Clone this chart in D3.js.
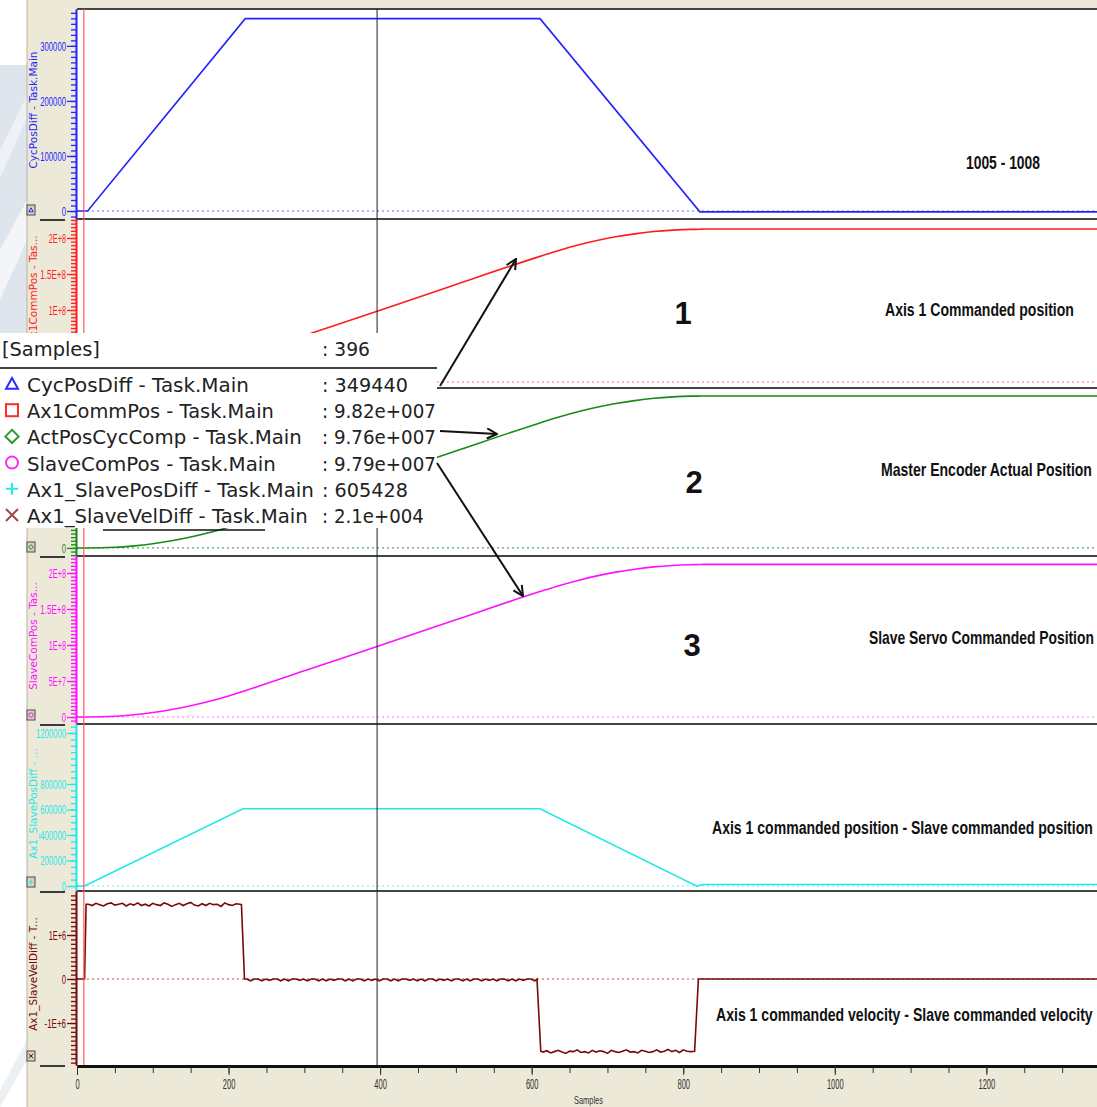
<!DOCTYPE html>
<html>
<head>
<meta charset="utf-8">
<script src="https://cdn.jsdelivr.net/npm/d3@7"></script>
<style>
body { margin: 0; background: #fff; }
svg { display: block; }
</style>
</head>
<body>
<div id="chart"></div>
<script>
// ---- data ----
var sampleMax = 1346
var cursorSample = 396
var triggerSample = 9

var blueSamples = [0, 14, 222, 611, 822, 1346]
var blueValues = [0, 0, 349440, 349440, -1500, -1500]

var posSamples = [0, 14, 50, 75, 100, 125, 150, 175, 200, 222, 300, 396, 500, 611, 636, 661, 686, 711, 736, 761, 786, 811, 822, 826, 1346]
var redValues = [0, 0, 1.1e6, 3.2e6, 6.3e6, 1.05e7, 1.58e7, 2.21e7, 2.95e7, 3.69e7, 6.45e7, 9.82e7, 1.355e8, 1.745e8, 1.828e8, 1.902e8, 1.965e8, 2.017e8, 2.058e8, 2.09e8, 2.11e8, 2.12e8, 2.121e8, 2.125e8, 2.125e8]
var greenValues = [0, 0, 0.9e6, 2.9e6, 5.9e6, 1.0e7, 1.52e7, 2.14e7, 2.87e7, 3.6e7, 6.35e7, 9.76e7, 1.346e8, 1.735e8, 1.817e8, 1.89e8, 1.952e8, 2.004e8, 2.045e8, 2.077e8, 2.097e8, 2.107e8, 2.108e8, 2.11e8, 2.11e8]
var magentaValues = [0, 0, 1.0e6, 3.1e6, 6.2e6, 1.04e7, 1.56e7, 2.18e7, 2.92e7, 3.66e7, 6.42e7, 9.79e7, 1.35e8, 1.742e8, 1.824e8, 1.897e8, 1.96e8, 2.012e8, 2.053e8, 2.085e8, 2.105e8, 2.115e8, 2.117e8, 2.12e8, 2.12e8]

var cyanSamples = [0, 10, 219, 611, 818, 826, 1346]
var cyanValues = [0, 0, 605428, 605428, -2000, 12000, 12000]

// velocity difference in millions: edges plus noisy plateaus
var velStartSamples = [0, 10, 12]
var velStartValues = [0, 0, 1.70]
var velHighStart = 15, velHighStep = 5
var velHigh = [1.70, 1.67, 1.72, 1.69, 1.66, 1.71, 1.73, 1.68, 1.70, 1.72, 1.66, 1.71, 1.68, 1.73, 1.67, 1.70, 1.66, 1.72, 1.69, 1.67, 1.73, 1.70, 1.65, 1.69, 1.72, 1.67, 1.71, 1.74, 1.68, 1.66, 1.71, 1.67, 1.72, 1.69, 1.70, 1.65, 1.73, 1.69, 1.67, 1.71, 1.70]
var velDownSamples = [217, 221]
var velDownValues = [1.69, 0]
var velMidStart = 224, velMidStep = 5
var velMid = [0, -0.04, 0, 0, -0.04, 0, -0.03, 0, 0, -0.04, 0, -0.04, 0, 0, -0.03, 0, -0.04, 0, 0, -0.04, 0, -0.04, 0, -0.03, 0, 0, -0.04, 0, -0.04, 0, 0, -0.04, 0, -0.03, 0, -0.04, 0, 0, -0.04, 0, -0.04, 0, 0, -0.03, 0, -0.04, 0, -0.04, 0, 0, -0.04, 0, -0.03, 0, -0.04, 0, 0, -0.04, 0, -0.04, 0, 0, -0.04, 0, -0.03, 0, -0.04, 0, 0, -0.04, 0, -0.04, 0, -0.03, 0, 0, -0.04]
var velNegSamples = [607, 612]
var velNegValues = [0, -1.64]
var velLowStart = 615, velLowStep = 5
var velLow = [-1.66, -1.63, -1.68, -1.65, -1.62, -1.66, -1.69, -1.64, -1.65, -1.61, -1.67, -1.65, -1.68, -1.62, -1.66, -1.63, -1.65, -1.69, -1.62, -1.65, -1.67, -1.64, -1.61, -1.66, -1.65, -1.68, -1.62, -1.64, -1.67, -1.65, -1.61, -1.66, -1.64, -1.60, -1.65, -1.62, -1.67, -1.61, -1.64, -1.65]
var velEndSamples = [815, 820, 1346]
var velEndValues = [-1.64, 0, 0]

var legendNames = ['CycPosDiff - Task.Main', 'Ax1CommPos - Task.Main', 'ActPosCycComp - Task.Main', 'SlaveComPos - Task.Main', 'Ax1_SlavePosDiff - Task.Main', 'Ax1_SlaveVelDiff - Task.Main']
var legendValues = [': 349440', ': 9.82e+007', ': 9.76e+007', ': 9.79e+007', ': 605428', ': 2.1e+004']
var axisTitles = ['CycPosDiff - Task.Main', 'Ax1CommPos - Tas...', 'ActPosCycComp - ...', 'SlaveComPos - Tas...', 'Ax1_SlavePosDiff - ...', 'Ax1_SlaveVelDiff - T...']
var xTicks = [0, 200, 400, 600, 800, 1000, 1200]

// ---- layout ----
var width = 1097, height = 1107
var plotLeft = 77, plotRight = 1097
var legendBox = {x: 0, y: 333, w: 437, h: 195}
var narrow = "'Liberation Sans Narrow','Arial Narrow','Liberation Sans',sans-serif"

var svg = d3.select('#chart').append('svg').attr('width', width).attr('height', height)
var defs = svg.append('defs')

svg.append('rect').attr('width', width).attr('height', height).attr('fill', '#fff')
// faded slide background at far left
svg.append('rect').attr('x', 0).attr('y', 65).attr('width', 27).attr('height', 270).attr('fill', '#dfe5ec')
svg.append('polygon').attr('points', '0,150 27,95 27,118 0,178').attr('fill', '#eef1f5')
svg.append('polygon').attr('points', '0,250 27,200 27,240 0,300').attr('fill', '#f3f5f8')
svg.append('polygon').attr('points', '0,1090 27,1040 27,1060 0,1107').attr('fill', '#edf0f3')
svg.append('rect').attr('x', 27).attr('y', 0).attr('width', width - 27).attr('height', height).attr('fill', '#ece9d8')
svg.append('line').attr('x1', 27).attr('x2', 27).attr('y1', 0).attr('y2', height).attr('stroke', '#b8b4a4')
svg.append('rect').attr('x', plotLeft).attr('y', 9).attr('width', plotRight - plotLeft).attr('height', 1057).attr('fill', '#fff')

var x = d3.scaleLinear().domain([0, sampleMax]).range([plotLeft, plotRight])

function fmtE(v) {
    if (v === 0) return '0'
    var e = Math.floor(Math.log10(Math.abs(v)))
    var m = +(v / Math.pow(10, e)).toFixed(2)
    return m + 'E+' + e
}

function zip(a, b) { return a.map(function(s, i){ return [s, b[i]] }) }
function stepped(start, step, vals) { return vals.map(function(v, i){ return [start + i * step, v] }) }

var velPoints = [].concat(
    zip(velStartSamples, velStartValues),
    stepped(velHighStart, velHighStep, velHigh),
    zip(velDownSamples, velDownValues),
    stepped(velMidStart, velMidStep, velMid),
    zip(velNegSamples, velNegValues),
    stepped(velLowStart, velLowStep, velLow),
    zip(velEndSamples, velEndValues)
).map(function(p){ return [p[0], p[1] * 1e6] })

var panels = [
    {top: 9, bottom: 219, domain: [-14500, 367000], color: '#2424ff', dot: '#6a6aff', data: zip(blueSamples, blueValues), ticks: [0, 100000, 200000, 300000], minor: d3.range(-10000, 367000, 10000), fmt: d3.format('d'), curve: d3.curveLinear, mark: 'tri', title: true},
    {top: 219, bottom: 388, domain: [-8.3e6, 2.264e8], color: '#ff1c1c', dot: '#ff6a6a', data: zip(posSamples, redValues), ticks: [0, 5e7, 1e8, 1.5e8, 2e8], minor: d3.range(-5e6, 2.26e8, 5e6), fmt: fmtE, curve: d3.curveMonotoneX, mark: 'sq', title: true},
    {top: 388, bottom: 556, domain: [-1.12e7, 2.22e8], color: '#178a17', dot: '#5aa85a', data: zip(posSamples, greenValues), ticks: [0, 5e7, 1e8, 1.5e8, 2e8], minor: d3.range(-1e7, 2.22e8, 5e6), fmt: fmtE, curve: d3.curveMonotoneX, mark: 'dia', title: false},
    {top: 556, bottom: 724, domain: [-9.7e6, 2.236e8], color: '#ff10ff', dot: '#ff70ff', data: zip(posSamples, magentaValues), ticks: [0, 5e7, 1e8, 1.5e8, 2e8], minor: d3.range(-5e6, 2.23e8, 5e6), fmt: fmtE, curve: d3.curveMonotoneX, mark: 'cir', title: true},
    {top: 724, bottom: 891, domain: [-39200, 1270600], color: '#1ee8e8', dot: '#60f0f0', data: zip(cyanSamples, cyanValues), ticks: [0, 200000, 400000, 600000, 800000, 1200000], minor: d3.range(0, 1270000, 50000), fmt: d3.format('d'), curve: d3.curveLinear, mark: 'plus', title: true},
    {top: 891, bottom: 1065, domain: [-1.954e6, 2.0e6], color: '#7a0808', dot: '#b05050', data: velPoints, ticks: [-1e6, 0, 1e6], minor: d3.range(-1.9e6, 2.0e6, 1e5), fmt: function(v){ return v === 0 ? '0' : (v < 0 ? '-1E+6' : '1E+6') }, curve: d3.curveLinear, mark: 'x', title: true}
]

function drawMark(g, type, cx, cy, r, color, sw) {
    if (type === 'tri') g.append('path').attr('d', 'M' + cx + ',' + (cy - r) + 'L' + (cx + r) + ',' + (cy + r * 0.8) + 'L' + (cx - r) + ',' + (cy + r * 0.8) + 'Z').attr('fill', 'none').attr('stroke', color).attr('stroke-width', sw)
    if (type === 'sq') g.append('rect').attr('x', cx - r).attr('y', cy - r).attr('width', 2 * r).attr('height', 2 * r).attr('fill', 'none').attr('stroke', color).attr('stroke-width', sw)
    if (type === 'dia') g.append('path').attr('d', 'M' + cx + ',' + (cy - r * 1.1) + 'L' + (cx + r * 1.1) + ',' + cy + 'L' + cx + ',' + (cy + r * 1.1) + 'L' + (cx - r * 1.1) + ',' + cy + 'Z').attr('fill', 'none').attr('stroke', color).attr('stroke-width', sw)
    if (type === 'cir') g.append('circle').attr('cx', cx).attr('cy', cy).attr('r', r).attr('fill', 'none').attr('stroke', color).attr('stroke-width', sw)
    if (type === 'plus') g.append('path').attr('d', 'M' + (cx - r) + ',' + cy + 'H' + (cx + r) + 'M' + cx + ',' + (cy - r) + 'V' + (cy + r)).attr('stroke', color).attr('stroke-width', sw)
    if (type === 'x') g.append('path').attr('d', 'M' + (cx - r) + ',' + (cy - r) + 'L' + (cx + r) + ',' + (cy + r) + 'M' + (cx + r) + ',' + (cy - r) + 'L' + (cx - r) + ',' + (cy + r)).attr('stroke', color).attr('stroke-width', sw)
}

function squeeze(sel, perChar) {
    sel.each(function(){
        var t = d3.select(this)
        t.attr('textLength', t.text().length * perChar).attr('lengthAdjust', 'spacingAndGlyphs')
    })
}

// text placed at (x, baseline y) and horizontally scaled to a target width
function fitText(parent, str, x0, y0, w, attrs) {
    var t = parent.append('text').attr('x', 0).attr('y', 0).text(str)
    Object.keys(attrs).forEach(function(k){ t.attr(k, attrs[k]) })
    var natural = t.node().getComputedTextLength()
    var sx = w / natural
    t.attr('transform', 'translate(' + x0 + ',' + y0 + ') scale(' + sx + ',1)')
    return t
}

panels.forEach(function(p, i){
    var y = d3.scaleLinear().domain(p.domain).range([p.bottom, p.top])
    var clipId = 'clip' + i
    defs.append('clipPath').attr('id', clipId).append('rect')
        .attr('x', plotLeft).attr('y', p.top).attr('width', plotRight - plotLeft).attr('height', p.bottom - p.top)
    var g = svg.append('g')

    // dotted zero line
    g.append('line').attr('x1', plotLeft).attr('x2', plotRight).attr('y1', y(0)).attr('y2', y(0))
        .attr('stroke', p.dot).attr('stroke-width', 1.2).attr('stroke-dasharray', '2,3')

    var line = d3.line().x(function(d){ return x(d[0]) }).y(function(d){ return y(d[1]) }).curve(p.curve)
    g.append('path').datum(p.data).attr('d', line).attr('fill', 'none')
        .attr('stroke', p.color).attr('stroke-width', 1.6).attr('clip-path', 'url(#' + clipId + ')')

    // axes; labels that sit under the legend box are not shown
    var minorAxis = d3.axisLeft(y).tickValues(p.minor).tickSize(5).tickSizeOuter(0).tickFormat('')
    var ga = svg.append('g').attr('transform', 'translate(76,0)').call(minorAxis)
    var shown = p.ticks.filter(function(v){ var py = y(v); return py < legendBox.y - 4 || py > legendBox.y + legendBox.h + 4 })
    var majorAxis = d3.axisLeft(y).tickValues(shown).tickSize(9).tickSizeOuter(0).tickPadding(1).tickFormat(p.fmt)
    var gm = svg.append('g').attr('transform', 'translate(76,0)').call(majorAxis)
    ;[ga, gm].forEach(function(a){
        a.selectAll('path.domain').attr('stroke', p.color).attr('stroke-width', 1.6)
        a.selectAll('.tick line').attr('stroke', p.color).attr('stroke-width', 1.3)
    })
    gm.selectAll('.tick text').attr('fill', p.color).attr('font-family', narrow).attr('font-size', 13.5)
    squeeze(gm.selectAll('.tick text'), 4.3)

    // axis title in side strip
    if (p.title) {
        var cy = i === 1 ? 290 : (p.top + p.bottom) / 2 - 4
        svg.append('text').attr('transform', 'translate(37,' + cy + ') rotate(-90)')
            .attr('text-anchor', 'middle').attr('fill', p.color)
            .attr('font-family', 'DejaVu Sans, sans-serif').attr('font-size', 10.5).text(axisTitles[i])
    }

    // small series icon + separator
    svg.append('rect').attr('x', 27).attr('y', p.bottom - 14).attr('width', 8).attr('height', 10)
        .attr('fill', '#d6d2c2').attr('stroke', '#4a4a4a').attr('stroke-width', 1)
    drawMark(svg, p.mark, 31, p.bottom - 9, 2.2, p.color, 1)
    svg.append('line').attr('x1', 40).attr('x2', 65).attr('y1', p.bottom + 1).attr('y2', p.bottom + 1)
        .attr('stroke', '#3a3a3a').attr('stroke-width', 2)
    svg.append('line').attr('x1', plotLeft).attr('x2', plotRight).attr('y1', p.top).attr('y2', p.top)
        .attr('stroke', '#444').attr('stroke-width', 2)
})

// trigger and cursor lines
svg.append('line').attr('x1', x(triggerSample)).attr('x2', x(triggerSample)).attr('y1', 9).attr('y2', 1065)
    .attr('stroke', '#ff5a5a').attr('stroke-width', 1.2)
svg.append('line').attr('x1', x(cursorSample)).attr('x2', x(cursorSample)).attr('y1', 9).attr('y2', 1065)
    .attr('stroke', '#222').attr('stroke-width', 1)

// bottom sample axis
var xMinor = d3.axisBottom(x).tickValues(d3.range(0, sampleMax, 50)).tickSize(7).tickSizeOuter(0).tickFormat('')
var gx = svg.append('g').attr('transform', 'translate(0,1066)').call(xMinor)
var xMajor = d3.axisBottom(x).tickValues(xTicks).tickSize(9).tickSizeOuter(0).tickPadding(4).tickFormat(d3.format('d'))
var gx2 = svg.append('g').attr('transform', 'translate(0,1066)').call(xMajor)
gx.selectAll('path.domain').attr('stroke', '#111').attr('stroke-width', 3)
gx2.selectAll('path.domain').attr('stroke', '#111').attr('stroke-width', 3)
gx.selectAll('.tick line').attr('stroke', '#333')
gx2.selectAll('.tick line').attr('stroke', '#333')
gx2.selectAll('.tick text').attr('fill', '#333').attr('font-family', narrow).attr('font-size', 14)
squeeze(gx2.selectAll('.tick text'), 4.2)
fitText(svg, 'Samples', 574, 1104, 29, {'fill': '#333', 'font-family': narrow, 'font-size': 11})

// legend box
var lg = svg.append('g')
var legendFont = {'font-family': 'DejaVu Sans, sans-serif', 'font-size': 19, 'fill': '#222'}
lg.append('rect').attr('x', legendBox.x).attr('y', legendBox.y).attr('width', legendBox.w).attr('height', legendBox.h).attr('fill', '#fff')
fitText(lg, '[Samples]', 2, 356, 98, legendFont)
fitText(lg, ': ' + cursorSample, 322, 356, 48, legendFont)
lg.append('line').attr('x1', 0).attr('x2', 437).attr('y1', 368).attr('y2', 368).attr('stroke', '#444').attr('stroke-width', 2)
var legendWidths = [222, 247, 275, 249, 287, 281]
var valueWidths = [86, 114, 114, 114, 86, 102]
var legendColors = ['#2a2aff', '#ff2a2a', '#2e9a2e', '#ff22ff', '#22eaea', '#a04848']
legendNames.forEach(function(n, i){
    var cy = 384 + i * 26.2
    drawMark(lg, panels[i].mark, 12, cy, 6, legendColors[i], 2)
    fitText(lg, n, 27, cy + 8, legendWidths[i], legendFont)
    fitText(lg, legendValues[i], 322, cy + 8, valueWidths[i], legendFont)
})
svg.append('line').attr('x1', 103).attr('x2', 265).attr('y1', 530).attr('y2', 530).attr('stroke', '#111').attr('stroke-width', 1.5)

// annotations
var noteFont = {'font-family': narrow, 'font-weight': 'bold', 'font-size': 19, 'fill': '#111'}
var notes = [
    {t: '1005 - 1008', x: 966, y: 169, w: 74},
    {t: 'Axis 1 Commanded position', x: 885, y: 316, w: 189},
    {t: 'Master Encoder Actual Position', x: 881, y: 476, w: 211},
    {t: 'Slave Servo Commanded Position', x: 869, y: 644, w: 225},
    {t: 'Axis 1 commanded position - Slave commanded position', x: 712, y: 834, w: 381},
    {t: 'Axis 1 commanded velocity - Slave commanded velocity', x: 716, y: 1021, w: 377}
]
notes.forEach(function(n){ fitText(svg, n.t, n.x, n.y, n.w, noteFont) })
var nums = [{t: '1', x: 683, y: 324}, {t: '2', x: 694, y: 493}, {t: '3', x: 692, y: 656}]
nums.forEach(function(n){
    svg.append('text').attr('x', n.x).attr('y', n.y).attr('text-anchor', 'middle').attr('font-family', 'Liberation Sans, Arial, sans-serif')
        .attr('font-weight', 'bold').attr('font-size', 31).attr('fill', '#111').text(n.t)
})

// arrows
defs.append('marker').attr('id', 'arr').attr('viewBox', '0 0 12 12').attr('refX', 11).attr('refY', 6)
    .attr('markerWidth', 12).attr('markerHeight', 12).attr('markerUnits', 'userSpaceOnUse').attr('orient', 'auto')
    .append('path').attr('d', 'M1,1 L11,6 L1,11').attr('fill', 'none').attr('stroke', '#111').attr('stroke-width', 2)
var arrows = [[440, 386, 516, 259], [440, 431, 497, 434], [437, 463, 523, 596]]
arrows.forEach(function(a){
    svg.append('line').attr('x1', a[0]).attr('y1', a[1]).attr('x2', a[2]).attr('y2', a[3])
        .attr('stroke', '#111').attr('stroke-width', 2).attr('marker-end', 'url(#arr)')
})
</script>
</body>
</html>
